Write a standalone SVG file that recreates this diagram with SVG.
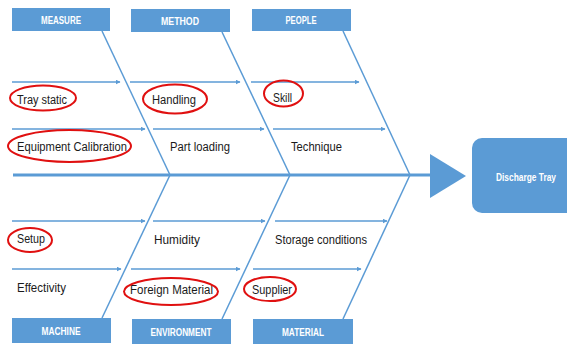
<svg xmlns="http://www.w3.org/2000/svg" width="567" height="345" viewBox="0 0 567 345">
  <style>
    .box { fill: #5B9BD5; }
    .cat { font-family: "Liberation Sans", Arial, sans-serif; font-size: 10px; font-weight: bold; fill: #ffffff; text-anchor: middle; }
    .lbl { font-family: "Liberation Sans", Arial, sans-serif; font-size: 12.5px; fill: #1a1a1a; }
    .bone { stroke: #5B9BD5; stroke-width: 1.5; fill: none; }
    .spine { stroke: #5B9BD5; stroke-width: 3; fill: none; }
    .twig { stroke: #5B9BD5; stroke-width: 1.3; fill: none; marker-end: url(#tip); }
    .ring { stroke: #E01010; stroke-width: 2; fill: none; }
  </style>
  <defs>
    <marker id="tip" viewBox="0 0 10 10" refX="9" refY="5" markerWidth="5" markerHeight="5" orient="auto" markerUnits="userSpaceOnUse">
      <path d="M0,0 L10,5 L0,10 Z" fill="#5B9BD5"/>
    </marker>
  </defs>

  <rect width="567" height="345" fill="#ffffff"/>

  <!-- connectors: spine, category bones and cause branches -->
  <g id="connectors">
    <line class="spine" x1="13" y1="175" x2="432" y2="175"/>
    <path d="M430,154 L466,176 L430,198 Z" fill="#5B9BD5"/>
    <line class="bone" x1="102" y1="31" x2="170" y2="175"/>
    <line class="bone" x1="222" y1="32" x2="290" y2="175"/>
    <line class="bone" x1="343" y1="31" x2="410" y2="175"/>
    <line class="bone" x1="170" y1="175" x2="102" y2="318"/>
    <line class="bone" x1="290" y1="175" x2="222" y2="319"/>
    <line class="bone" x1="410" y1="175" x2="343" y2="319"/>
    <line class="twig" x1="12" y1="82" x2="120" y2="82"/>
    <line class="twig" x1="130" y1="82" x2="240" y2="82"/>
    <line class="twig" x1="251" y1="82" x2="359" y2="82"/>
    <line class="twig" x1="12" y1="129" x2="145" y2="129"/>
    <line class="twig" x1="153" y1="129" x2="264" y2="129"/>
    <line class="twig" x1="273" y1="129" x2="385" y2="129"/>
    <line class="twig" x1="12" y1="221" x2="145" y2="221"/>
    <line class="twig" x1="153" y1="221" x2="265" y2="221"/>
    <line class="twig" x1="275" y1="221" x2="387" y2="221"/>
    <line class="twig" x1="12" y1="269" x2="121" y2="269"/>
    <line class="twig" x1="131" y1="269" x2="240" y2="269"/>
    <line class="twig" x1="253" y1="269" x2="361" y2="269"/>
  </g>

  <!-- category boxes -->
  <g id="measure"><rect class="box" x="12" y="8" width="98" height="23"/><text class="cat" x="61" y="23.5" textLength="40" lengthAdjust="spacingAndGlyphs">MEASURE</text></g>
  <g id="method"><rect class="box" x="131" y="9" width="99" height="23"/><text class="cat" x="180" y="24.5" textLength="38" lengthAdjust="spacingAndGlyphs">METHOD</text></g>
  <g id="people"><rect class="box" x="252" y="9" width="99" height="22"/><text class="cat" x="301" y="24" textLength="31" lengthAdjust="spacingAndGlyphs">PEOPLE</text></g>
  <g id="machine"><rect class="box" x="12" y="318" width="99" height="25"/><text class="cat" x="61" y="334.5" textLength="39" lengthAdjust="spacingAndGlyphs">MACHINE</text></g>
  <g id="environment"><rect class="box" x="132" y="319" width="99" height="25"/><text class="cat" x="181" y="335.5" textLength="61" lengthAdjust="spacingAndGlyphs">ENVIRONMENT</text></g>
  <g id="material"><rect class="box" x="253" y="319" width="100" height="25"/><text class="cat" x="303" y="335.5" textLength="42" lengthAdjust="spacingAndGlyphs">MATERIAL</text></g>

  <!-- effect box: rounded on the left, running to the right edge -->
  <g id="discharge-tray">
    <path class="box" d="M482,138 H567 V213 H482 A10,10 0 0 1 472,203 V148 A10,10 0 0 1 482,138 Z"/>
    <text class="cat" x="526" y="180.5" font-size="9.5" textLength="60" lengthAdjust="spacingAndGlyphs">Discharge Tray</text>
  </g>

  <!-- causes -->
  <g id="tray-static"><text class="lbl" x="17" y="103.5" textLength="50" lengthAdjust="spacingAndGlyphs">Tray static</text><ellipse class="ring" cx="43" cy="98" rx="33" ry="12.5"/></g>
  <g id="handling"><text class="lbl" x="152" y="103.5" textLength="44" lengthAdjust="spacingAndGlyphs">Handling</text><ellipse class="ring" cx="175" cy="99" rx="32" ry="14.5"/></g>
  <g id="skill"><text class="lbl" x="273" y="102" textLength="19" lengthAdjust="spacingAndGlyphs">Skill</text><ellipse class="ring" cx="283.5" cy="93.5" rx="19.5" ry="13"/></g>
  <g id="equipment-calibration"><text class="lbl" x="17" y="150.5" textLength="110" lengthAdjust="spacingAndGlyphs">Equipment Calibration</text><ellipse class="ring" cx="69.5" cy="146" rx="61.5" ry="16"/></g>
  <g id="part-loading"><text class="lbl" x="170" y="150.5" textLength="60" lengthAdjust="spacingAndGlyphs">Part loading</text></g>
  <g id="technique"><text class="lbl" x="291" y="150.5" textLength="51" lengthAdjust="spacingAndGlyphs">Technique</text></g>
  <g id="setup"><text class="lbl" x="17" y="242.5" textLength="28" lengthAdjust="spacingAndGlyphs">Setup</text><ellipse class="ring" cx="30" cy="240" rx="22" ry="12"/></g>
  <g id="humidity"><text class="lbl" x="154" y="243.5" textLength="46" lengthAdjust="spacingAndGlyphs">Humidity</text></g>
  <g id="storage-conditions"><text class="lbl" x="275" y="243.5" textLength="92" lengthAdjust="spacingAndGlyphs">Storage conditions</text></g>
  <g id="effectivity"><text class="lbl" x="17" y="291.5" textLength="49" lengthAdjust="spacingAndGlyphs">Effectivity</text></g>
  <g id="foreign-material"><text class="lbl" x="130" y="293.5" textLength="83" lengthAdjust="spacingAndGlyphs">Foreign Material</text><ellipse class="ring" cx="171" cy="291.5" rx="47" ry="13.5"/></g>
  <g id="supplier"><text class="lbl" x="252" y="293.5" textLength="40" lengthAdjust="spacingAndGlyphs">Supplier</text><ellipse class="ring" cx="270" cy="289" rx="26" ry="12"/></g>
</svg>
